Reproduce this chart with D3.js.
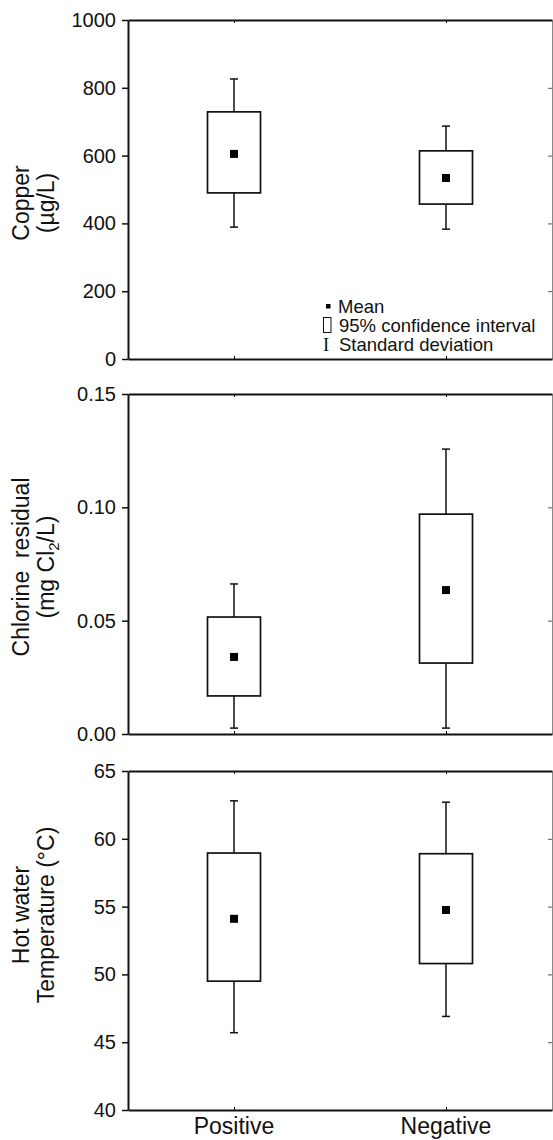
<!DOCTYPE html>
<html lang="en">
<head>
  <meta charset="UTF-8" />
  <title>Copper, chlorine residual and hot water temperature</title>
  <style>
    body { margin: 0; background: #fff; }
    svg { display: block; }
    text { font-family: "Liberation Sans", Arial, sans-serif; fill: #111; }
    .tick text { font-size: 20px; }
    .ytitle { font-size: 23px; }
    .xlabel { font-size: 23px; }
    .legend text { font-size: 18.5px; }
  </style>
</head>
<body>
<div class="chart"></div>
<script src="https://cdn.jsdelivr.net/npm/d3@7"></script>
<script>
  var groups = ["Positive", "Negative"];

  // copper (ug/L)
  var copperMean = [605, 534];
  var copperCiLow = [490, 457];
  var copperCiHigh = [729, 614];
  var copperSdLow = [389, 383];
  var copperSdHigh = [826, 687];
  var copperTicks = [0, 200, 400, 600, 800, 1000];

  // chlorine residual (mg Cl2/L)
  var chlorineMean = [0.034, 0.0635];
  var chlorineCiLow = [0.0168, 0.0313];
  var chlorineCiHigh = [0.0516, 0.097];
  var chlorineSdLow = [0.0026, 0.0026];
  var chlorineSdHigh = [0.0662, 0.1257];
  var chlorineTicks = [0, 0.05, 0.10, 0.15];

  // hot water temperature (C)
  var tempMean = [54.1, 54.75];
  var tempCiLow = [49.5, 50.8];
  var tempCiHigh = [58.95, 58.9];
  var tempSdLow = [45.7, 46.9];
  var tempSdHigh = [62.8, 62.7];
  var tempTicks = [40, 45, 50, 55, 60, 65];

  var w = 553, h = 1140;
  var left = 128, right = 552;

  var svg = d3.select(".chart").append("svg")
    .attr("width", w)
    .attr("height", h);

  var x = d3.scalePoint()
    .domain(groups)
    .range([left, right])
    .padding(0.5);

  var panels = [
    { top: 20, bottom: 359, ticks: copperTicks, fmt: d3.format("d"),
      mean: copperMean, ciLo: copperCiLow, ciHi: copperCiHigh, sdLo: copperSdLow, sdHi: copperSdHigh,
      title: ["Copper", "(µg/L)"], titleY: 203 },
    { top: 394, bottom: 734, ticks: chlorineTicks, fmt: d3.format(".2f"),
      mean: chlorineMean, ciLo: chlorineCiLow, ciHi: chlorineCiHigh, sdLo: chlorineSdLow, sdHi: chlorineSdHigh,
      title: ["Chlorine  residual", "sub"], titleY: 567 },
    { top: 771, bottom: 1110, ticks: tempTicks, fmt: d3.format("d"),
      mean: tempMean, ciLo: tempCiLow, ciHi: tempCiHigh, sdLo: tempSdLow, sdHi: tempSdHigh,
      title: ["Hot water", "Temperature (°C)"], titleY: 915 }
  ];

  var boxW = 53, capW = 8, markS = 8;

  panels.forEach(function(p, k) {
    var y = d3.scaleLinear()
      .domain(d3.extent(p.ticks))
      .range([p.bottom, p.top]);

    var g = svg.append("g");

    // left axis
    var ax = g.append("g")
      .attr("transform", "translate(" + left + ",0)")
      .call(d3.axisLeft(y).tickValues(p.ticks).tickFormat(p.fmt).tickSize(6).tickSizeOuter(0).tickPadding(6));
    ax.select(".domain").attr("stroke", "#111").attr("stroke-width", 2);
    ax.selectAll(".tick line").attr("stroke", "#111").attr("stroke-width", 1.5);

    // right axis (thin, inward ticks)
    var ar = g.append("g")
      .attr("transform", "translate(" + right + ",0)")
      .call(d3.axisRight(y).tickValues(p.ticks).tickFormat("").tickSize(-4).tickSizeOuter(0));
    ar.select(".domain").attr("stroke", "#888").attr("stroke-width", 1);
    ar.selectAll(".tick line").attr("stroke", "#555");

    // top and bottom frame
    var at = g.append("g")
      .attr("transform", "translate(0," + p.top + ")")
      .call(d3.axisTop(x).tickFormat("").tickSize(-3).tickSizeOuter(0));
    at.select(".domain").attr("stroke", "#111").attr("stroke-width", 2);
    var ab = g.append("g")
      .attr("transform", "translate(0," + p.bottom + ")")
      .call(d3.axisBottom(x).tickFormat("").tickSize(-3).tickSizeOuter(0));
    ab.select(".domain").attr("stroke", "#111").attr("stroke-width", 2);

    // whiskers (standard deviation)
    g.selectAll(".sd")
      .data(groups)
      .enter()
      .append("line")
      .attr("x1", function(d) { return x(d); })
      .attr("x2", function(d) { return x(d); })
      .attr("y1", function(d, i) { return y(p.sdLo[i]); })
      .attr("y2", function(d, i) { return y(p.sdHi[i]); })
      .attr("stroke", "#111")
      .attr("stroke-width", 1.5);

    ["sdLo", "sdHi"].forEach(function(key) {
      g.selectAll(".cap-" + key)
        .data(groups)
        .enter()
        .append("line")
        .attr("x1", function(d) { return x(d) - capW / 2; })
        .attr("x2", function(d) { return x(d) + capW / 2; })
        .attr("y1", function(d, i) { return y(p[key][i]); })
        .attr("y2", function(d, i) { return y(p[key][i]); })
        .attr("stroke", "#111")
        .attr("stroke-width", 1.5);
    });

    // confidence interval boxes
    g.selectAll(".ci")
      .data(groups)
      .enter()
      .append("rect")
      .attr("x", function(d) { return x(d) - boxW / 2; })
      .attr("y", function(d, i) { return y(p.ciHi[i]); })
      .attr("width", boxW)
      .attr("height", function(d, i) { return y(p.ciLo[i]) - y(p.ciHi[i]); })
      .attr("fill", "#fff")
      .attr("stroke", "#111")
      .attr("stroke-width", 1.7);

    // means
    g.selectAll(".mean")
      .data(groups)
      .enter()
      .append("rect")
      .attr("x", function(d) { return x(d) - markS / 2; })
      .attr("y", function(d, i) { return y(p.mean[i]) - markS / 2; })
      .attr("width", markS)
      .attr("height", markS)
      .attr("fill", "#000");

    // y title
    var t = g.append("text")
      .attr("class", "ytitle")
      .attr("text-anchor", "middle")
      .attr("transform", "translate(29," + p.titleY + ") rotate(-90)");
    t.append("tspan").attr("x", 0).attr("y", 0).attr("xml:space", "preserve").text(p.title[0]);
    if (p.title[1] == "sub") {
      var t2 = t.append("tspan").attr("x", 0).attr("y", 25);
      t2.append("tspan").text("(mg Cl");
      t2.append("tspan").attr("font-size", "15px").attr("dy", 5).text("2");
      t2.append("tspan").attr("dy", -5).text("/L)");
    } else {
      t.append("tspan").attr("x", 0).attr("y", 25).text(p.title[1]);
    }

    // x labels under last panel
    if (k == panels.length - 1) {
      g.selectAll(".xlabel")
        .data(groups)
        .enter()
        .append("text")
        .attr("class", "xlabel")
        .attr("text-anchor", "middle")
        .attr("x", function(d) { return x(d); })
        .attr("y", 1134)
        .text(function(d) { return d; });
    }
  });

  // legend in the first panel
  var legend = svg.append("g").attr("class", "legend");
  legend.append("rect").attr("x", 326).attr("y", 304).attr("width", 4.5).attr("height", 4.5).attr("fill", "#000");
  legend.append("text").attr("x", 338).attr("y", 313).text("Mean");
  legend.append("rect").attr("x", 323.5).attr("y", 317.5).attr("width", 7.5).attr("height", 15)
    .attr("fill", "#fff").attr("stroke", "#111").attr("stroke-width", 1);
  legend.append("text").attr("x", 339).attr("y", 332).text("95% confidence interval");
  legend.append("text").attr("x", 323).attr("y", 351)
    .style("font-family", "'Liberation Serif', 'DejaVu Serif', serif").text("I");
  legend.append("text").attr("x", 339).attr("y", 351).text("Standard deviation");
</script>
</body>
</html>
